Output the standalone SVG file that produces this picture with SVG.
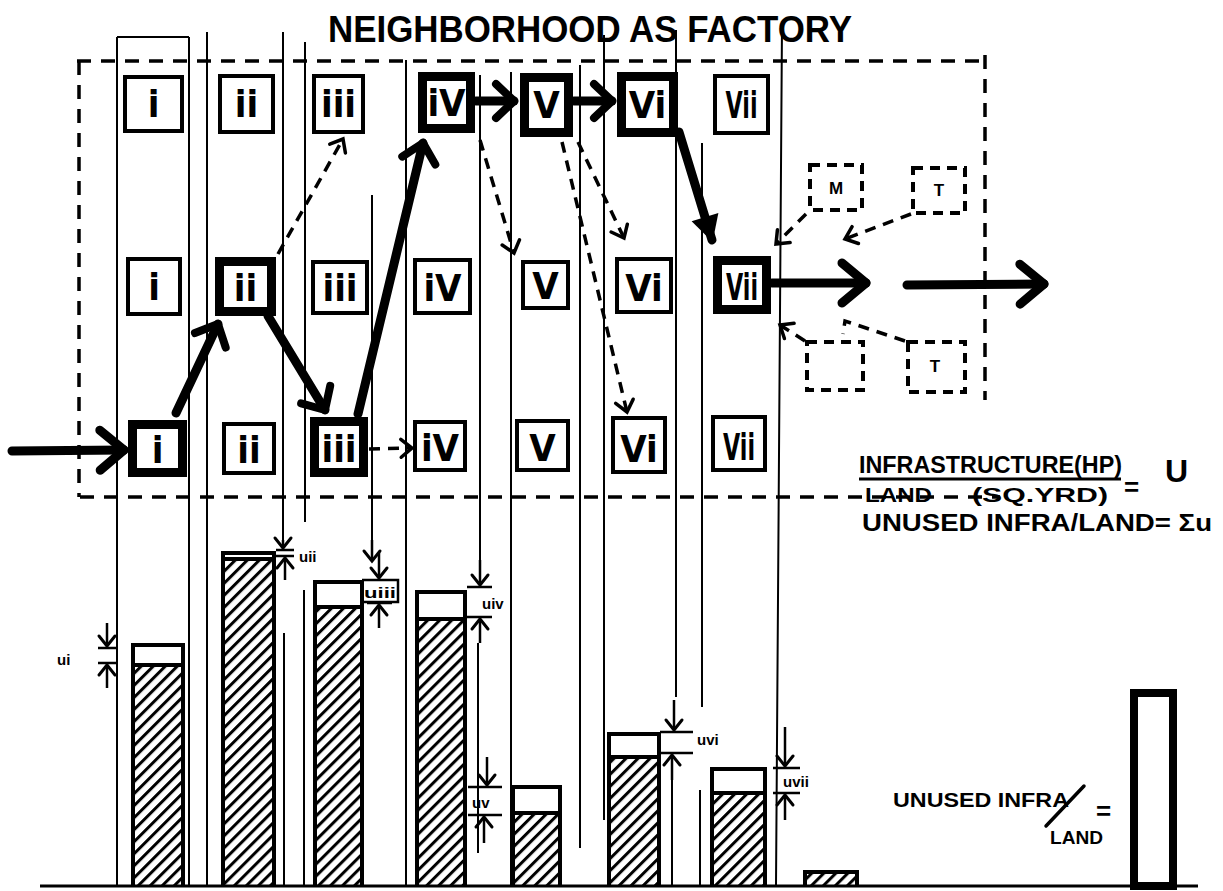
<svg xmlns="http://www.w3.org/2000/svg" width="1223" height="891" viewBox="0 0 1223 891">
<style>
.bg{fill:#fff}
.col{stroke:#000;stroke-width:2;fill:none}
.frame{stroke:#000;stroke-width:3.5;fill:none;stroke-dasharray:14 10}
.thin{fill:#fff;stroke:#000;stroke-width:4}
.thick{fill:#fff;stroke:#000;stroke-width:9}
.dbox{fill:none;stroke:#000;stroke-width:4;stroke-dasharray:10 7}
.lab{font-family:"Liberation Sans Narrow","DejaVu Sans Condensed","Liberation Sans",sans-serif;font-size:38px;font-weight:bold;text-anchor:middle;fill:#000}
.small{font-family:"Liberation Sans",sans-serif;font-weight:bold;font-size:17px;text-anchor:middle;fill:#000}
.hand{font-family:"Liberation Sans",sans-serif;font-weight:bold;fill:#000}
.dim{font-family:"Liberation Sans",sans-serif;font-weight:bold;font-size:15px;fill:#000}
.flow{stroke:#000;stroke-width:9;fill:none;stroke-linecap:round}
.dash{stroke:#000;stroke-width:3.5;fill:none;stroke-dasharray:11 8}
.dl{stroke:#000;stroke-width:2.5;fill:none}
.bar{fill:none;stroke:#000;stroke-width:4}
</style>
<defs>
<marker id="chev" markerUnits="userSpaceOnUse" viewBox="-30 -26 36 52" markerWidth="36" markerHeight="52" refX="0" refY="0" orient="auto" overflow="visible">
<path d="M-24,-20 L0,0 L-24,20" fill="none" stroke="#000" stroke-width="9" stroke-linecap="round" stroke-linejoin="round"/>
</marker>
<marker id="chevs" markerUnits="userSpaceOnUse" viewBox="-30 -26 36 52" markerWidth="36" markerHeight="52" refX="0" refY="0" orient="auto" overflow="visible">
<path d="M-18,-17 L0,0 L-18,17" fill="none" stroke="#000" stroke-width="8" stroke-linecap="round" stroke-linejoin="round"/>
</marker>
<marker id="tri" markerUnits="userSpaceOnUse" viewBox="-30 -20 34 40" markerWidth="34" markerHeight="40" refX="0" refY="0" orient="auto" overflow="visible">
<path d="M-24,-14 L2,0 L-24,14 Z" fill="#000"/>
</marker>
<marker id="och" markerUnits="userSpaceOnUse" viewBox="-14 -12 16 24" markerWidth="16" markerHeight="24" refX="0" refY="0" orient="auto" overflow="visible">
<path d="M-11,-9 L0,0 L-11,9" fill="none" stroke="#000" stroke-width="3.5" stroke-linecap="round"/>
</marker>
<marker id="dch" markerUnits="userSpaceOnUse" viewBox="-12 -10 14 20" markerWidth="14" markerHeight="20" refX="0" refY="0" orient="auto" overflow="visible">
<path d="M-10,-8 L0,0 L-10,8" fill="none" stroke="#000" stroke-width="3" stroke-linecap="round"/>
</marker>
<pattern id="hatch" patternUnits="userSpaceOnUse" width="8.5" height="8.5" patternTransform="rotate(45)">
<rect x="0" y="0" width="8.5" height="8.5" fill="#fff"/>
<rect x="0" y="0" width="3" height="8.5" fill="#000"/>
</pattern>
</defs>
<rect class="bg" x="0" y="0" width="1223" height="891"/>

<g id="title">
<text class="hand" x="328" y="42" font-size="37" textLength="524" lengthAdjust="spacingAndGlyphs">NEIGHBORHOOD AS FACTORY</text>
</g>

<g id="columns">
<path class="col" d="M117,37 V886 M117,37 H189 M189,37 V886 M207,32 V886 M283,32 V546 M284,633 V886 M305,42 V522 M304,590 V886 M372,195 V560 M406,60 V886 M480,75 V583 M478,643 V853 M511,72 V886 M580,65 V848 M604,35 V820 M676,30 V697 M672,780 V886 M702,143 V707 M700,790 V886 M782,25 L776,886"/>
</g>

<g id="frame">
<path class="frame" d="M77,61 H985 M985,55 V400 M79,61 V497 M80,497 H1000"/>
</g>

<g id="connectors">
<path class="flow" d="M12,451 L124,450" marker-end="url(#chev)"/>
<path class="flow" d="M176,413 L218,324" marker-end="url(#chevs)"/>
<path class="flow" d="M268,316 L325,410" marker-end="url(#chevs)"/>
<path class="flow" d="M358,414 L423,143" marker-end="url(#chevs)"/>
<path class="flow" d="M476,101 L514,101" marker-end="url(#chevs)"/>
<path class="flow" d="M574,101 L612,101" marker-end="url(#chevs)"/>
<path class="flow" d="M679,132 L712,240" marker-end="url(#tri)"/>
<path class="flow" d="M772,283 L866,283" marker-end="url(#chev)"/>
<path class="flow" d="M907,285 L1044,284" marker-end="url(#chev)"/>
<path class="dash" d="M278,254 L343,139" marker-end="url(#och)"/>
<path class="dash" d="M480,140 L514,253" marker-end="url(#och)"/>
<path class="dash" d="M578,142 L624,238" marker-end="url(#och)"/>
<path class="dash" d="M562,142 L627,412" marker-end="url(#och)"/>
<path class="dash" d="M369,449 L412,448" marker-end="url(#och)"/>
<path class="dash" d="M806,214 L776,244" marker-end="url(#och)"/>
<path class="dash" d="M911,214 L845,239" marker-end="url(#och)"/>
<path class="dash" d="M805,341 L780,325" marker-end="url(#och)"/>
<path class="dash" d="M905,341 L845,321 L843,334"/>
</g>

<g id="row-top">
<g id="t1"><rect class="thin" x="125" y="77" width="57" height="54"/><text class="lab" x="153.5" y="117">i</text></g>
<g id="t2"><rect class="thin" x="220" y="76" width="53" height="56"/><text class="lab" x="246.5" y="117">ii</text></g>
<g id="t3"><rect class="thin" x="314" y="76" width="49" height="56"/><text class="lab" x="338.5" y="117">iii</text></g>
<g id="t4"><rect class="thick" x="422.5" y="76.5" width="48" height="52"/><text class="lab" x="446.5" y="116">iV</text></g>
<g id="t5"><rect class="thick" x="524.5" y="77.5" width="44" height="55"/><text class="lab" x="546.5" y="118">V</text></g>
<g id="t6"><rect class="thick" x="621.5" y="76.5" width="52" height="56"/><text class="lab" x="647.5" y="118">Vi</text></g>
<g id="t7"><rect class="thin" x="715" y="76" width="53" height="57"/><text class="lab" x="741.5" y="118" textLength="32" lengthAdjust="spacingAndGlyphs">Vii</text></g>
</g>

<g id="row-mid">
<g id="m1"><rect class="thin" x="128" y="259" width="52" height="55"/><text class="lab" x="154" y="300">i</text></g>
<g id="m2"><rect class="thick" x="219.5" y="261.5" width="52" height="50"/><text class="lab" x="245.5" y="301">ii</text></g>
<g id="m3"><rect class="thin" x="313" y="262" width="54" height="51"/><text class="lab" x="340" y="301">iii</text></g>
<g id="m4"><rect class="thin" x="415" y="260" width="55" height="53"/><text class="lab" x="442.5" y="301">iV</text></g>
<g id="m5"><rect class="thin" x="523" y="262" width="45" height="46"/><text class="lab" x="545.5" y="299">V</text></g>
<g id="m6"><rect class="thin" x="617" y="259" width="54" height="53"/><text class="lab" x="644" y="301">Vi</text></g>
<g id="m7"><rect class="thick" x="717.5" y="260.5" width="49" height="49"/><text class="lab" x="742" y="300" textLength="32" lengthAdjust="spacingAndGlyphs">Vii</text></g>
</g>

<g id="row-bottom">
<g id="b1"><rect class="thick" x="132.5" y="424.5" width="50" height="48"/><text class="lab" x="157.5" y="463">i</text></g>
<g id="b2"><rect class="thin" x="224" y="424" width="50" height="49"/><text class="lab" x="249" y="463">ii</text></g>
<g id="b3"><rect class="thick" x="314.5" y="421.5" width="49" height="51"/><text class="lab" x="339" y="462">iii</text></g>
<g id="b4"><rect class="thin" x="415" y="422" width="50" height="48"/><text class="lab" x="440" y="461">iV</text></g>
<g id="b5"><rect class="thin" x="517" y="421" width="51" height="49"/><text class="lab" x="542.5" y="461">V</text></g>
<g id="b6"><rect class="thin" x="613" y="418" width="52" height="54"/><text class="lab" x="639" y="462">Vi</text></g>
<g id="b7"><rect class="thin" x="713" y="417" width="52" height="53"/><text class="lab" x="739" y="460" textLength="32" lengthAdjust="spacingAndGlyphs">Vii</text></g>
</g>

<g id="external">
<g id="xM"><rect class="dbox" x="810" y="165" width="52" height="45"/><text class="small" x="836" y="194">M</text></g>
<g id="xT1"><rect class="dbox" x="913" y="168" width="52" height="45"/><text class="small" x="939" y="196">T</text></g>
<g id="xB"><rect class="dbox" x="807" y="342" width="56" height="48"/></g>
<g id="xT2"><rect class="dbox" x="908" y="342" width="57" height="50"/><text class="small" x="935" y="372">T</text></g>
</g>

<g id="formula">
<text class="hand" x="859" y="473" font-size="23" textLength="263" lengthAdjust="spacingAndGlyphs">INFRASTRUCTURE(HP)</text>
<line x1="859" y1="479" x2="1121" y2="479" stroke="#000" stroke-width="3"/>
<text class="hand" x="865" y="502" font-size="20" textLength="67" lengthAdjust="spacingAndGlyphs">LAND</text>
<text class="hand" x="972" y="502" font-size="20" textLength="136" lengthAdjust="spacingAndGlyphs">(SQ.YRD)</text>
<text class="hand" x="1124" y="496" font-size="26">=</text>
<text class="hand" x="1165" y="482" font-size="32" font-weight="normal">U</text>
<text class="hand" x="862" y="531" font-size="23" textLength="350" lengthAdjust="spacingAndGlyphs">UNUSED INFRA/LAND= Σu</text>
</g>

<g id="bars">
<g id="bar1"><rect x="133" y="645" width="50" height="241" fill="#fff"/><rect x="133" y="665" width="50" height="221" fill="url(#hatch)"/><path class="bar" d="M133,886 V645 H183 V886 M133,665 H183"/></g>
<g id="bar2"><rect x="223" y="553" width="51" height="333" fill="#fff"/><rect x="223" y="559" width="51" height="327" fill="url(#hatch)"/><path class="bar" d="M223,886 V553 H274 V886 M223,559 H274"/></g>
<g id="bar3"><rect x="315" y="582" width="47" height="304" fill="#fff"/><rect x="315" y="607" width="47" height="279" fill="url(#hatch)"/><path class="bar" d="M315,886 V582 H362 V886 M315,607 H362"/></g>
<g id="bar4"><rect x="417" y="592" width="48" height="294" fill="#fff"/><rect x="417" y="619" width="48" height="267" fill="url(#hatch)"/><path class="bar" d="M417,886 V592 H465 V886 M417,619 H465"/></g>
<g id="bar5"><rect x="513" y="787" width="47" height="99" fill="#fff"/><rect x="513" y="813" width="47" height="73" fill="url(#hatch)"/><path class="bar" d="M513,886 V787 H560 V886 M513,813 H560"/></g>
<g id="bar6"><rect x="609" y="734" width="50" height="152" fill="#fff"/><rect x="609" y="757" width="50" height="129" fill="url(#hatch)"/><path class="bar" d="M609,886 V734 H659 V886 M609,757 H659"/></g>
<g id="bar7"><rect x="712" y="769" width="53" height="117" fill="#fff"/><rect x="712" y="793" width="53" height="93" fill="url(#hatch)"/><path class="bar" d="M712,886 V769 H765 V886 M712,793 H765"/></g>
<g id="bar8"><rect x="805" y="872" width="52" height="14" fill="url(#hatch)"/><path class="bar" d="M805,886 V872 H857 V886"/></g>
<g id="bar9"><rect x="1134" y="693" width="39" height="193" fill="#fff" stroke="#000" stroke-width="8"/></g>
</g>

<g id="dimensions">
<path class="dl" d="M107,623 V646" marker-end="url(#dch)"/><path class="dl" d="M98,648 H117 M98,663 H117"/><path class="dl" d="M107,688 V665" marker-end="url(#dch)"/>
<text class="dim" x="57" y="665">ui</text>
<path class="dl" d="M283,540 V548" marker-end="url(#dch)"/><path class="dl" d="M276,550 H294 M276,556 H294"/><path class="dl" d="M285,580 V558" marker-end="url(#dch)"/>
<text class="dim" x="299" y="562">uii</text>
<path class="dl" d="M372,540 V561" marker-end="url(#dch)"/>
<path class="dl" d="M379,553 V578" marker-end="url(#dch)"/><path class="dl" d="M362,580 H398 V602 H362 M367,603 H392"/><path class="dl" d="M379,628 V605" marker-end="url(#dch)"/>
<text class="dim" x="364" y="598" textLength="32" lengthAdjust="spacingAndGlyphs">uiii</text>
<path class="dl" d="M480,560 V585" marker-end="url(#dch)"/><path class="dl" d="M467,587 H492 M467,617 H492"/><path class="dl" d="M480,643 V619" marker-end="url(#dch)"/>
<text class="dim" x="482" y="609">uiv</text>
<path class="dl" d="M487,757 V785" marker-end="url(#dch)"/><path class="dl" d="M468,787 H502 M468,815 H502"/><path class="dl" d="M484,843 V817" marker-end="url(#dch)"/>
<text class="dim" x="472" y="808">uv</text>
<path class="dl" d="M674,700 V730" marker-end="url(#dch)"/><path class="dl" d="M660,732 H693 M660,753 H693"/><path class="dl" d="M672,780 V755" marker-end="url(#dch)"/>
<text class="dim" x="697" y="745">uvi</text>
<path class="dl" d="M785,727 V766" marker-end="url(#dch)"/><path class="dl" d="M773,768 H800 M773,793 H800"/><path class="dl" d="M785,820 V795" marker-end="url(#dch)"/>
<text class="dim" x="783" y="787">uvii</text>
</g>

<g id="unused-label">
<text class="hand" x="893" y="807" font-size="21" textLength="176" lengthAdjust="spacingAndGlyphs">UNUSED INFRA</text>
<line x1="1046" y1="826" x2="1084" y2="786" stroke="#000" stroke-width="3.5" stroke-linecap="round"/>
<text class="hand" x="1050" y="844" font-size="19" textLength="53" lengthAdjust="spacingAndGlyphs">LAND</text>
<text class="hand" x="1096" y="820" font-size="26">=</text>
</g>

<g id="baseline">
<line x1="40" y1="886" x2="1198" y2="886" stroke="#000" stroke-width="3"/>
</g>
</svg>
